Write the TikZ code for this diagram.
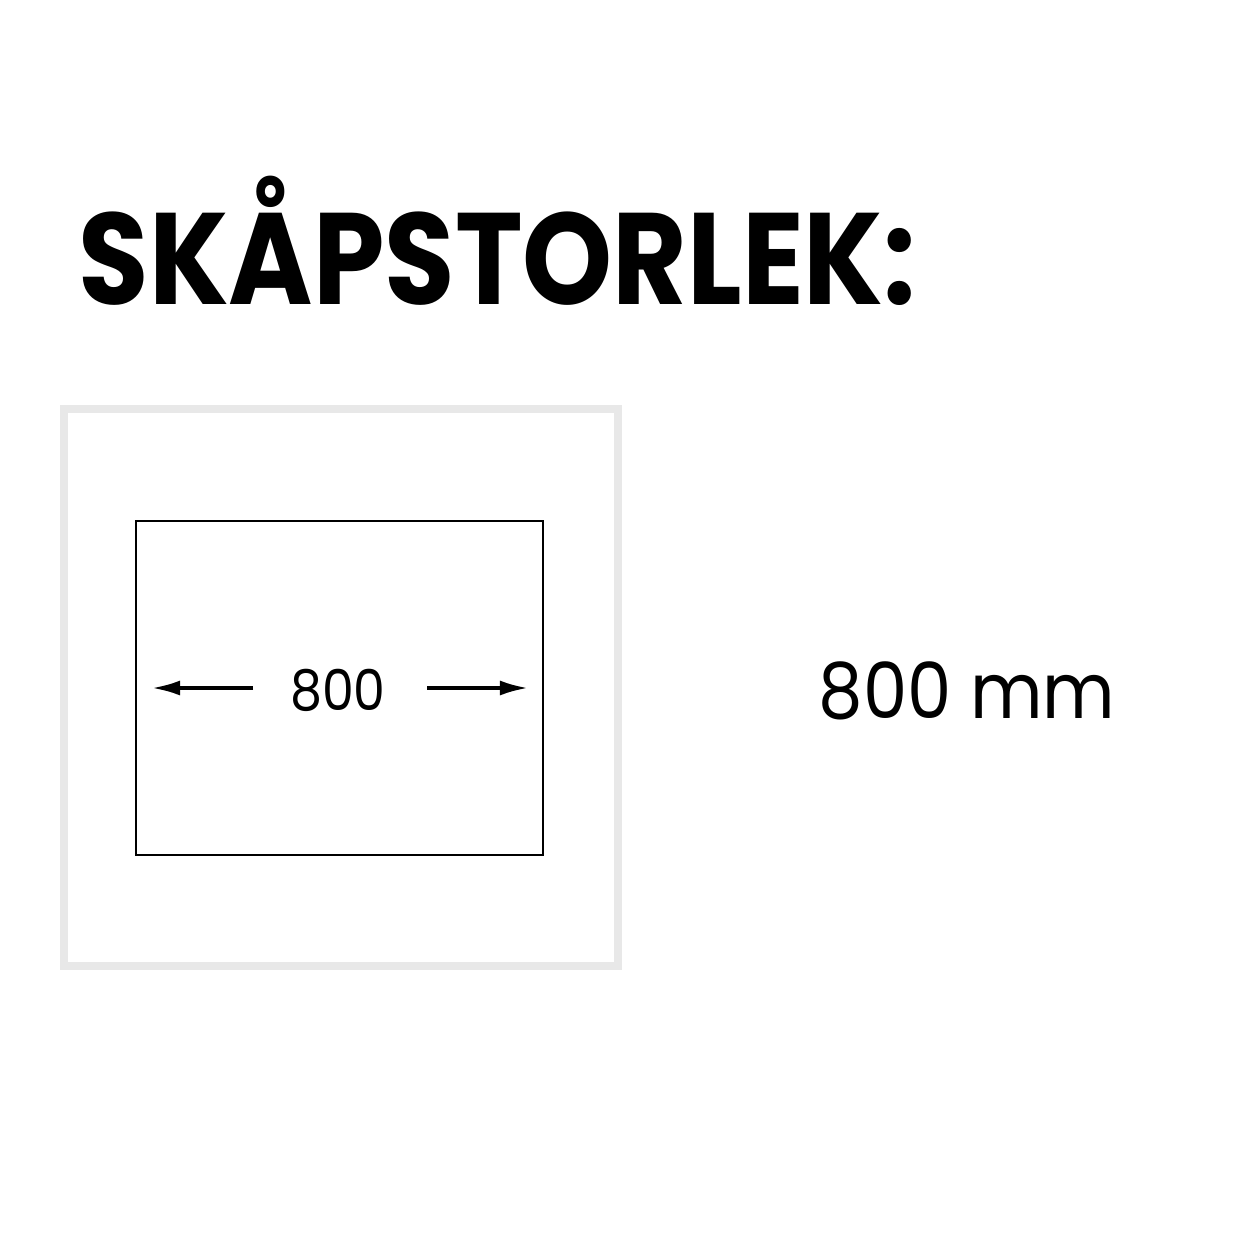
\documentclass[tikz,border=0pt]{standalone}
\usepackage{fontspec}
\setmainfont{Poppins}
\usepackage{tikz}
\usetikzlibrary{arrows.meta}

\begin{document}
\begin{tikzpicture}[x=0.01cm, y=-0.01cm, inner sep=0pt]
    \useasboundingbox (0,0) rectangle (1240,1240);
    \coordinate (F1) at (64, 409);
    \coordinate (F2) at (618, 966);
    \coordinate (C1) at (136, 521);
    \coordinate (C2) at (543, 855);
    \coordinate (L1) at (253, 688);
    \coordinate (L2) at (152, 688);
    \coordinate (R1) at (427, 688);
    \coordinate (R2) at (528, 688);

    \node[anchor=base west, xscale=0.88, font=\bfseries\fontsize{37}{40}\selectfont] (title) at (78, 305) {SKÅPSTORLEK:}; % heading

    \draw[line width=0.8mm, color=black!9] (F1) rectangle (F2); % outer frame
    \draw[line width=0.25mm] (C1) rectangle (C2); % cabinet

    \node[xscale=0.9, font=\fontsize{16}{18}\selectfont] (width) at (338, 690) {800}; % width
    \draw[line width=0.35mm, -{Latex[length=2.8mm, width=1.5mm]}] (L1) -- (L2); % left
    \draw[line width=0.35mm, -{Latex[length=2.8mm, width=1.5mm]}] (R1) -- (R2); % right

    \node[anchor=base west, xscale=0.91, font=\fontsize{22}{24}\selectfont] (size) at (818, 718) {800 mm}; % size
\end{tikzpicture}
\end{document}
